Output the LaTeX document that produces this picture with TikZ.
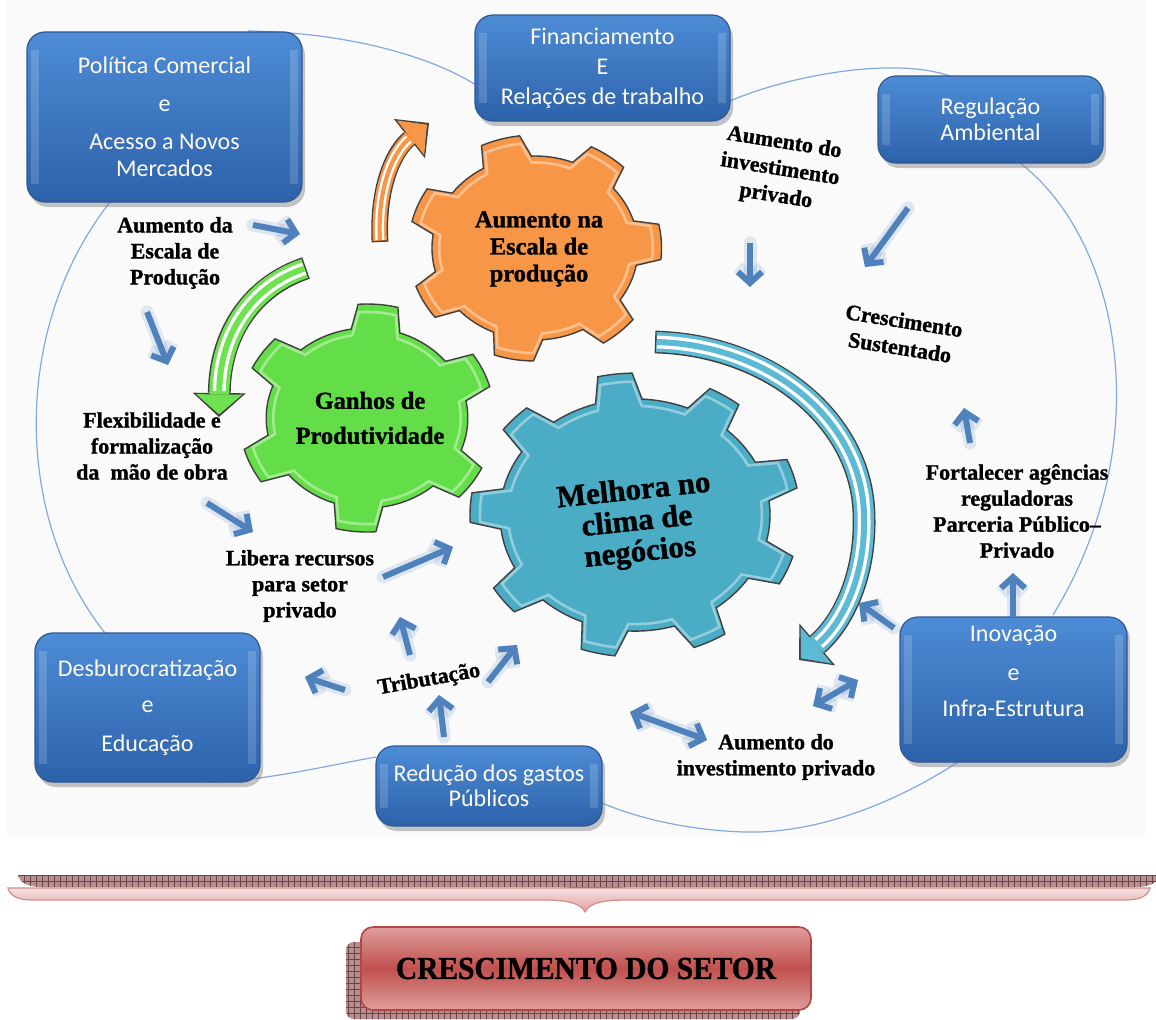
\documentclass[tikz,border=0pt]{standalone}
\usepackage{fontspec}
\usepackage{graphicx}
\setmainfont{Liberation Serif}
\newfontfamily\heavy{Liberation Serif}[BoldFeatures={FakeBold=1.2}]
\newfontfamily\boxfont{Carlito}
\usetikzlibrary{arrows.meta,shadows,patterns}

\definecolor{arrowblue}{RGB}{79,129,189}
\definecolor{loopblue}{RGB}{130,170,220}
\definecolor{gearorange}{RGB}{247,150,70}
\definecolor{geargreen}{RGB}{100,222,72}
\definecolor{gearblue}{RGB}{75,172,198}
\definecolor{bandblue}{RGB}{92,186,212}
\definecolor{bandgreen}{RGB}{110,226,80}
\definecolor{boxtop}{RGB}{78,140,214}
\definecolor{boxbottom}{RGB}{44,98,170}
\definecolor{boxedge}{RGB}{46,88,148}
\definecolor{boxtext}{RGB}{255,250,236}
\definecolor{pinklight}{RGB}{245,224,224}
\definecolor{pinkdark}{RGB}{224,160,158}
\definecolor{pinkedge}{RGB}{214,140,138}
\definecolor{redlight}{RGB}{222,158,157}
\definecolor{redmid}{RGB}{192,80,77}
\definecolor{rededge}{RGB}{178,70,68}
\definecolor{hatchfill}{RGB}{180,145,145}
\definecolor{hatchline}{RGB}{115,65,68}
\definecolor{panel}{RGB}{250,250,250}
\definecolor{rim}{RGB}{64,64,64}

% gear outline: body arcs of radius \grin, \gn teeth reaching \grout
\newcommand{\gearpath}{%
  ({\grot-\gbase}:\grin)
  \foreach \k in {1,...,\gn}{
    -- ({\grot+(\k-1)*360/\gn-\gtip}:\grout)
    arc[start angle={\grot+(\k-1)*360/\gn-\gtip}, delta angle={2*\gtip}, radius=\grout]
    -- ({\grot+(\k-1)*360/\gn+\gbase}:\grin)
    arc[start angle={\grot+(\k-1)*360/\gn+\gbase}, delta angle={360/\gn-2*\gbase}, radius=\grin]
  } -- cycle}

% wide curly brace above the result box
\newcommand{\bracepath}{(8,888) -- (1150,888) .. controls (1148,896) and (1140,900) .. (1125,900)
  -- (626,900) .. controls (600,900) and (589,904) .. (585,912)
  .. controls (581,904) and (570,900) .. (544,900) -- (32,900)
  .. controls (18,900) and (10,896) .. (8,888) -- cycle}

\begin{document}
\begin{tikzpicture}[x=0.5pt, y=-0.5pt,
  bluebox/.style={draw=boxedge, line width=0.6pt, rounded corners=9pt,
    top color=boxtop, bottom color=boxbottom,
    drop shadow={shadow xshift=1.5pt, shadow yshift=-2.5pt, opacity=0.45},
    path picture={
      \draw[white, opacity=0.16, line width=4pt]
        ([xshift=4pt,yshift=-9pt]path picture bounding box.north west) --
        ([xshift=4pt,yshift=9pt]path picture bounding box.south west);
      \draw[white, opacity=0.16, line width=4pt]
        ([xshift=-4pt,yshift=-9pt]path picture bounding box.north east) --
        ([xshift=-4pt,yshift=9pt]path picture bounding box.south east);},
    text=boxtext, font=\boxfont\fontsize{12}{13.5}\selectfont, align=center, inner sep=0pt},
  lbl/.style={font=\heavy\bfseries\fontsize{11}{13}\selectfont, align=center, inner sep=0pt, text=black},
  gearlbl/.style={lbl, font=\heavy\bfseries\fontsize{12.2}{13.5}\selectfont},
  gearbody/.style={draw=rim, line width=0.7pt},
  gearshine/.style={draw=white, line width=1.3pt, opacity=0.4},
  loopline/.style={draw=loopblue, line width=0.6pt},
  sarrow/.style={draw=arrowblue, line width=3pt, -{Straight Barb[length=5.5pt, width=12pt]},
    preaction={draw=arrowblue, line width=6.5pt, opacity=0.16, line cap=round}},
  dsarrow/.style={sarrow, {Straight Barb[length=5.5pt, width=12pt]}-{Straight Barb[length=5.5pt, width=12pt]}},
  hatch/.style={preaction={fill=hatchfill}, pattern=grid, pattern color=hatchline},
]
\useasboundingbox (0,0) rectangle (1156,1019);
\fill[white] (0,0) rectangle (1156,1019);
\fill[panel] (6,0) rectangle (1146,836);

% the loop joining the six policy boxes (visible stretches between boxes)
\draw[loopline] (248,31) .. controls (330,32) and (420,50) .. (476,85);
\draw[loopline] (730,101) .. controls (790,75) and (900,55) .. (955,78);
\draw[loopline] (1020,163) .. controls (1120,240) and (1160,440) .. (1053,615);
\draw[loopline] (958,762) .. controls (900,800) and (820,834) .. (745,832)
  .. controls (680,830) and (630,815) .. (602,803);
\draw[loopline] (376,757) .. controls (330,765) and (260,782) .. (207,782);
\draw[loopline] (105,633) .. controls (15,520) and (10,330) .. (110,202);

% gears
\def\gn{7}\def\grin{92}\def\grout{113}\def\grot{106}\def\gtip{9}\def\gbase{14}
\begin{scope}[shift={(535,248)}, x=0.56pt, y=0.5pt]
  \path[gearbody, fill=gearorange] \gearpath;
  \path[gearshine, scale=0.93] \gearpath;
\end{scope}
\def\gn{6}\def\grin{90}\def\grout{114}\def\grot{25}\def\gtip{9}\def\gbase{14}
\begin{scope}[shift={(367,418)}, x=0.56pt, y=0.5pt]
  \path[gearbody, fill=geargreen] \gearpath;
  \path[gearshine, scale=0.93] \gearpath;
\end{scope}
\def\gn{9}\def\grin{135}\def\grout{165}\def\grot{97}\def\gtip{6}\def\gbase{10}
\begin{scope}[shift={(635,515)}, x=0.5pt, y=0.43pt]
  \path[gearbody, fill=gearblue] \gearpath;
  \path[gearshine, scale=0.94] \gearpath;
\end{scope}

% curved band arrows
\coordinate (oastart) at (380,242);
\coordinate (oaend) at (429,123);
\draw[draw=rim, line width=8.4pt, -{Triangle[width=25pt, length=12.5pt, line width=0pt]}]
  (oastart) .. controls (377,185) and (395,150) .. (oaend);
\draw[draw=gearorange, line width=7pt, shorten >=1.3pt, shorten <=0.7pt, -{Triangle[width=22pt, length=10.5pt, line width=0pt]}]
  (oastart) .. controls (377,185) and (395,150) .. (oaend);
\draw[draw=white, line width=1.2pt, double=gearorange, double distance=2.1pt, shorten >=13pt, shorten <=1pt]
  (oastart) .. controls (377,185) and (395,150) .. (oaend);

\coordinate (gastart) at (306,268);
\coordinate (gaend) at (219,417);
\draw[draw=rim, line width=11.4pt, -{Triangle[width=26.5pt, length=12pt, line width=0pt]}]
  (gastart) .. controls (255,285) and (220,330) .. (gaend);
\draw[draw=bandgreen, line width=10pt, shorten >=1.3pt, shorten <=0.7pt, -{Triangle[width=23pt, length=10pt, line width=0pt]}]
  (gastart) .. controls (255,285) and (220,330) .. (gaend);
\draw[draw=white, line width=1.7pt, double=bandgreen, double distance=3pt, shorten >=13pt, shorten <=1pt]
  (gastart) .. controls (255,285) and (220,330) .. (gaend);

\coordinate (bastart) at (655,342);
\coordinate (bamid) at (864,515);
\coordinate (baend) at (799,660);
\draw[draw=rim, line width=11.4pt, -{Triangle[width=27.5pt, length=12pt, line width=0pt]}]
  (bastart) .. controls (770,345) and (862,420) .. (bamid) .. controls (866,580) and (840,625) .. (baend);
\draw[draw=bandblue, line width=10pt, shorten >=1.3pt, shorten <=0.7pt, -{Triangle[width=24pt, length=10pt, line width=0pt]}]
  (bastart) .. controls (770,345) and (862,420) .. (bamid) .. controls (866,580) and (840,625) .. (baend);
\draw[draw=white, line width=1.7pt, double=bandblue, double distance=3pt, shorten >=13pt, shorten <=1pt]
  (bastart) .. controls (770,345) and (862,420) .. (bamid) .. controls (866,580) and (840,625) .. (baend);

% gear labels
\node[gearlbl] (lblorange) at (539,249) {Aumento na\\Escala de\\produção};
\node[gearlbl, font=\heavy\bfseries\fontsize{12.2}{17.5}\selectfont] (lblgreen) at (370,418) {Ganhos de\\Produtividade};
\node[gearlbl, rotate=6, font=\heavy\bfseries\fontsize{15.5}{15.5}\selectfont] (lblblue) at (637,523) {Melhora no\\clima de\\negócios};

% policy boxes
\node[bluebox, minimum width=137.5pt, minimum height=85pt] (politica) at (164.5,117)
  {Política Comercial\\[5.5pt]e\\[5.5pt]Acesso a Novos\\Mercados};
\node[bluebox, minimum width=127.5pt, minimum height=53pt, font=\boxfont\fontsize{12}{15}\selectfont] (financiamento) at (602.5,68)
  {Financiamento\\E\\Relações de trabalho};
\node[bluebox, minimum width=112.5pt, minimum height=43.5pt, font=\boxfont\fontsize{12}{13}\selectfont] (regulacao) at (990.5,119.5)
  {Regulação\\Ambiental};
\node[bluebox, minimum width=112.5pt, minimum height=74.5pt] (desburo) at (147.5,707.5)
  {Desburocratização\\[4.5pt]e\\[6pt]Educação};
\node[bluebox, minimum width=113pt, minimum height=40pt, font=\boxfont\fontsize{12}{12.5}\selectfont] (reducao) at (489,786)
  {Redução dos gastos\\Públicos};
\node[bluebox, minimum width=113.5pt, minimum height=72.5pt] (inovacao) at (1013.5,689.5)
  {Inovação\\[6pt]e\\[4.5pt]Infra-Estrutura\\[5.5pt]\mbox{}};

% free labels
\node[lbl] (escala) at (175,253) {Aumento da\\Escala de\\Produção};
\node[lbl] (flex) at (152,446) {Flexibilidade e\\formalização\\da\ \ mão de obra};
\node[lbl] (libera) at (300,586) {Libera recursos\\para setor\\privado};
\node[lbl, rotate=10] (trib) at (429,680) {Tributação};
\node[lbl] (invbaixo) at (776,757) {Aumento do\\investimento privado};
\node[lbl, rotate=-9, font=\heavy\bfseries\fontsize{11}{13.5}\selectfont] (invtopo) at (780,170) {Aumento do\\investimento\\privado};
\node[lbl, rotate=-9, font=\heavy\bfseries\fontsize{11}{13.5}\selectfont] (cresc) at (902,334) {Crescimento\\Sustentado};
\node[lbl] (fortalecer) at (1017,511) {Fortalecer agências\\reguladoras\\Parceria Público–\\Privado};

% short blue arrows
\coordinate (a1s) at (253,225);  \coordinate (a1e) at (300,234);
\coordinate (a2s) at (147,312);  \coordinate (a2e) at (168,365);
\coordinate (a3s) at (207,503);  \coordinate (a3e) at (253,532);
\coordinate (a4s) at (383,577);  \coordinate (a4e) at (453,547);
\coordinate (a5s) at (410,655);  \coordinate (a5e) at (400,617);
\coordinate (a6s) at (345,690);  \coordinate (a6e) at (305,677);
\coordinate (a7s) at (444,737);  \coordinate (a7e) at (439,695);
\coordinate (a8s) at (488,682);  \coordinate (a8e) at (517,645);
\coordinate (a9s) at (630,712);  \coordinate (a9e) at (707,740);
\coordinate (a10s) at (813,706); \coordinate (a10e) at (858,680);
\coordinate (a11s) at (894,628); \coordinate (a11e) at (859,603);
\coordinate (a12s) at (1013,617); \coordinate (a12e) at (1013,573);
\coordinate (a13s) at (970,443); \coordinate (a13e) at (964,408);
\coordinate (a14s) at (908,208); \coordinate (a14e) at (865,267);
\coordinate (a15s) at (750,243); \coordinate (a15e) at (750,287);
\foreach \i in {1,2,3,4,5,6,7,8,11,12,13,14,15}
  \draw[sarrow] (a\i s) -- (a\i e);
\draw[dsarrow] (a9s) -- (a9e);
\draw[dsarrow] (a10s) -- (a10e);

% brace and result box
\path[hatch] [shift={(10,-13)}] \bracepath;
\path[draw=pinkedge, line width=0.6pt, top color=pinklight, bottom color=pinkdark] \bracepath;
\path[hatch, rounded corners=4pt] (346,942) rectangle (800,1019);
\node[draw=rededge, line width=0.8pt, rounded corners=6pt,
  top color=redlight, bottom color=redlight, middle color=redmid,
  minimum width=225pt, minimum height=41.5pt, inner sep=0pt,
  font=\heavy\bfseries\fontsize{16}{18}\selectfont] (setor) at (586,968.5)
  {\scalebox{0.92}[1]{CRESCIMENTO DO SETOR}};
\end{tikzpicture}
\end{document}
